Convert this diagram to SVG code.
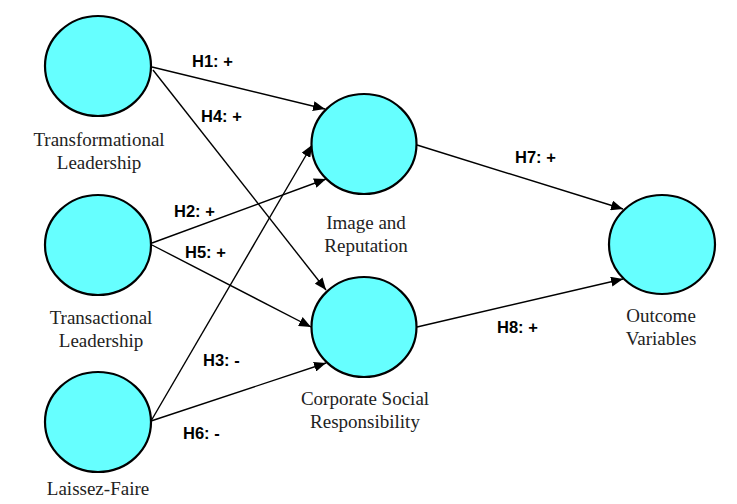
<svg xmlns="http://www.w3.org/2000/svg" width="737" height="504" viewBox="0 0 737 504">
<style>
.node{fill:#66FFFF;stroke:#000;stroke-width:2.2}
.lbl{font-family:"Liberation Serif","Times New Roman",serif;font-size:19px;fill:#222;text-anchor:middle}
.h{font-family:"Liberation Sans",Arial,sans-serif;font-size:16.5px;font-weight:bold;fill:#000}
.e{stroke:#000;stroke-width:1.4;fill:none;marker-end:url(#ah)}
</style>
<defs>
<marker id="ah" markerUnits="userSpaceOnUse" markerWidth="12" markerHeight="10" viewBox="0 0 12 10" refX="12" refY="5" orient="auto">
<path d="M0,0 L12,5 L0,10 Z" fill="#000"/>
</marker>
</defs>
<rect width="737" height="504" fill="#fff"/>
<g id="connectors">
<line class="e" x1="152" y1="67" x2="325" y2="109"/>
<line class="e" x1="153" y1="70" x2="326" y2="290"/>
<line class="e" x1="152" y1="243" x2="326" y2="179"/>
<line class="e" x1="152" y1="245" x2="311" y2="327"/>
<line class="e" x1="151" y1="421" x2="312" y2="145"/>
<line class="e" x1="151" y1="421" x2="326" y2="363"/>
<line class="e" x1="417" y1="145" x2="623" y2="209"/>
<line class="e" x1="417" y1="327" x2="623" y2="279"/>
</g>
<g id="edge-labels">
<text class="h" x="192" y="67">H1: +</text>
<text class="h" x="201" y="122">H4: +</text>
<text class="h" x="174" y="217">H2: +</text>
<text class="h" x="185" y="258">H5: +</text>
<text class="h" x="203" y="366">H3: -</text>
<text class="h" x="183" y="439">H6: -</text>
<text class="h" x="515" y="163">H7: +</text>
<text class="h" x="497" y="333">H8: +</text>
</g>
<g id="n-transformational">
<ellipse class="node" cx="98" cy="66" rx="53" ry="50"/>
<text class="lbl" x="99" y="146">Transformational</text>
<text class="lbl" x="99" y="169">Leadership</text>
</g>
<g id="n-transactional">
<ellipse class="node" cx="98" cy="245" rx="53" ry="50"/>
<text class="lbl" x="101" y="324">Transactional</text>
<text class="lbl" x="101" y="347">Leadership</text>
</g>
<g id="n-laissez">
<ellipse class="node" cx="98" cy="422" rx="53" ry="50"/>
<text class="lbl" x="98" y="495">Laissez-Faire</text>
</g>
<g id="n-image">
<ellipse class="node" cx="364" cy="144" rx="52.5" ry="50"/>
<text class="lbl" x="366" y="229">Image and</text>
<text class="lbl" x="366" y="252">Reputation</text>
</g>
<g id="n-csr">
<ellipse class="node" cx="364" cy="327" rx="52.5" ry="50"/>
<text class="lbl" x="365" y="405">Corporate Social</text>
<text class="lbl" x="365" y="428">Responsibility</text>
</g>
<g id="n-outcome">
<ellipse class="node" cx="662" cy="244.5" rx="53" ry="49.5"/>
<text class="lbl" x="661" y="322">Outcome</text>
<text class="lbl" x="661" y="345">Variables</text>
</g>
</svg>
